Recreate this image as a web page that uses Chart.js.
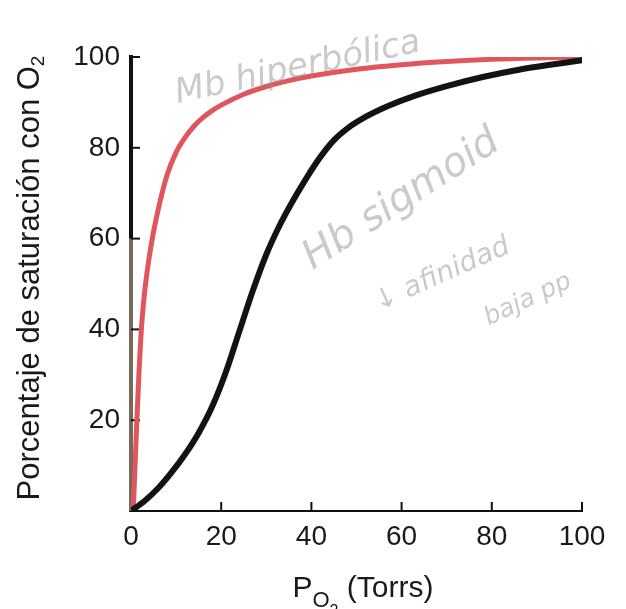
<!DOCTYPE html>
<html><head><meta charset="utf-8">
<script src="https://cdn.jsdelivr.net/npm/chart.js@4.4.1/dist/chart.umd.min.js"></script>
<style>html,body{margin:0;padding:0;background:#fff}#wrap{width:626px;height:609px;position:relative}</style>
</head><body><div id="wrap"><canvas id="c" width="626" height="609"></canvas></div>
<script>
// Mioglobina (curva hiperbólica, roja)
const mbPO2 = [0.5, 0.9, 1.3, 1.75, 2.3, 3.0, 3.9, 5.0, 6.4, 8, 10, 12, 14, 16, 18, 20, 25, 30, 35, 40, 50, 60, 70, 80, 90, 100];
const mbSat = [0, 10, 20, 30, 40, 48, 55, 61.5, 68, 74, 79, 82.3, 84.8, 86.7, 88.2, 89.4, 91.8, 93.5, 94.8, 95.8, 97.3, 98.3, 99, 99.5, 99.8, 100];
// Hemoglobina (curva sigmoide, negra)
const hbPO2 = [0, 3, 6, 9, 12, 15, 18, 21, 24, 27, 30, 33, 36, 39, 42, 45, 48, 52, 57, 63, 70, 78, 86, 93, 100];
const hbSat = [0, 2.2, 5, 8.5, 12.5, 17.2, 23, 30.5, 39.5, 48.5, 56.5, 63, 68.5, 73.5, 78, 81.7, 84.3, 86.8, 89.2, 91.5, 93.6, 95.6, 97.2, 98.3, 99.3];
// Ticks
const xTicks = [0, 20, 40, 60, 80, 100];
const yTicks = [20, 40, 60, 80, 100];
// Titles (drawn with subscripts)
const yTitleParts = [['Porcentaje de saturación con O', 0], ['2', 1]];
const xTitleParts = [['P', 0], ['O', 1], ['2', 2], [' (Torrs)', 0]];
// Handwritten notes
const noteTexts = ['Mb hiperbólica', 'Hb sigmoid', '↓ afinidad', 'baja pp'];
const noteX = [37, 60, 69, 88];
const noteY = [97.5, 68.5, 52, 46.5];
const noteAngle = [-12, -33, -24, -25];
const noteSize = [34, 40, 28, 25];

const FONT = '"Liberation Sans", Arial, sans-serif';

const extras = {
  id: 'extras',
  beforeDatasetsDraw(chart) {
    const ctx = chart.ctx, xs = chart.scales.x, ys = chart.scales.y;
    ctx.save();
    ctx.strokeStyle = '#76695a';
    ctx.lineWidth = 4;
    ctx.beginPath();
    ctx.moveTo(xs.left, ys.getPixelForValue(60));
    ctx.lineTo(xs.left, ys.getPixelForValue(0));
    ctx.stroke();
    ctx.strokeStyle = '#111';
    ctx.lineWidth = 2;
    yTicks.forEach(v => {
      const y = ys.getPixelForValue(v);
      ctx.beginPath(); ctx.moveTo(xs.left, y); ctx.lineTo(xs.left + 9, y); ctx.stroke();
    });
    xTicks.slice(1).forEach(v => {
      const x = xs.getPixelForValue(v);
      ctx.beginPath(); ctx.moveTo(x, ys.bottom); ctx.lineTo(x, ys.bottom - 9); ctx.stroke();
    });
    ctx.restore();
  },
  afterDraw(chart) {
    const ctx = chart.ctx, xs = chart.scales.x, ys = chart.scales.y;
    const drawParts = (parts, sizes, offs) => {
      let w = 0;
      parts.forEach(([t, l]) => { ctx.font = sizes[l] + 'px ' + FONT; w += ctx.measureText(t).width; });
      let x = -w / 2;
      parts.forEach(([t, l]) => {
        ctx.font = sizes[l] + 'px ' + FONT;
        ctx.fillText(t, x, offs[l]);
        x += ctx.measureText(t).width;
      });
    };
    ctx.save();
    ctx.fillStyle = '#1a1a1a';
    ctx.textBaseline = 'alphabetic';
    ctx.textAlign = 'left';
    ctx.save();
    ctx.translate(38.5, 278);
    ctx.rotate(-Math.PI / 2);
    drawParts(yTitleParts, [31, 19, 14], [0, 5, 9]);
    ctx.restore();
    ctx.save();
    ctx.translate(363, 597);
    drawParts(xTitleParts, [30, 22, 16], [0, 10, 19]);
    ctx.restore();
    ctx.fillStyle = 'rgba(150,150,150,0.5)';
    ctx.textAlign = 'center';
    ctx.textBaseline = 'middle';
    noteTexts.forEach((t, i) => {
      ctx.save();
      ctx.translate(xs.getPixelForValue(noteX[i]), ys.getPixelForValue(noteY[i]));
      ctx.rotate(noteAngle[i] * Math.PI / 180);
      ctx.font = 'italic ' + noteSize[i] + 'px "DejaVu Sans", sans-serif';
      ctx.fillText(t, 0, 0);
      ctx.restore();
    });
    ctx.restore();
  }
};

new Chart(document.getElementById('c'), {
  type: 'scatter',
  data: {
    datasets: [
      {
        label: 'Hb',
        data: hbPO2.map((x, i) => ({ x, y: hbSat[i] })),
        showLine: true, borderColor: '#151212', borderWidth: 6,
        pointRadius: 0, cubicInterpolationMode: 'monotone', borderCapStyle: 'round'
      },
      {
        label: 'Mb',
        data: mbPO2.map((x, i) => ({ x, y: mbSat[i] })),
        showLine: true, borderColor: '#e0565c', borderWidth: 5,
        pointRadius: 0, cubicInterpolationMode: 'monotone', borderCapStyle: 'round'
      }
    ]
  },
  options: {
    responsive: false, animation: false, devicePixelRatio: 1,
    layout: { padding: { left: 0, right: 44, top: 57, bottom: 0 } },
    plugins: { legend: { display: false }, tooltip: { enabled: false } },
    scales: {
      x: {
        type: 'linear', min: 0, max: 100,
        afterBuildTicks: s => { s.ticks = xTicks.map(v => ({ value: v })); },
        afterFit: s => { s.height = 98; },
        grid: { display: true, drawOnChartArea: false, drawTicks: false },
        border: { display: true, color: '#111', width: 2 },
        ticks: { padding: 9, color: '#1a1a1a', font: { family: FONT, size: 28 }, maxRotation: 0 }
      },
      y: {
        type: 'linear', min: 0, max: 100,
        afterBuildTicks: s => { s.ticks = yTicks.map(v => ({ value: v })); },
        afterFit: s => { s.width = 131; },
        grid: { display: true, drawOnChartArea: false, drawTicks: false },
        border: { display: true, color: '#111', width: 4 },
        ticks: { padding: 11, color: '#1a1a1a', font: { family: FONT, size: 28 } }
      }
    }
  },
  plugins: [extras]
});
</script></body></html>
